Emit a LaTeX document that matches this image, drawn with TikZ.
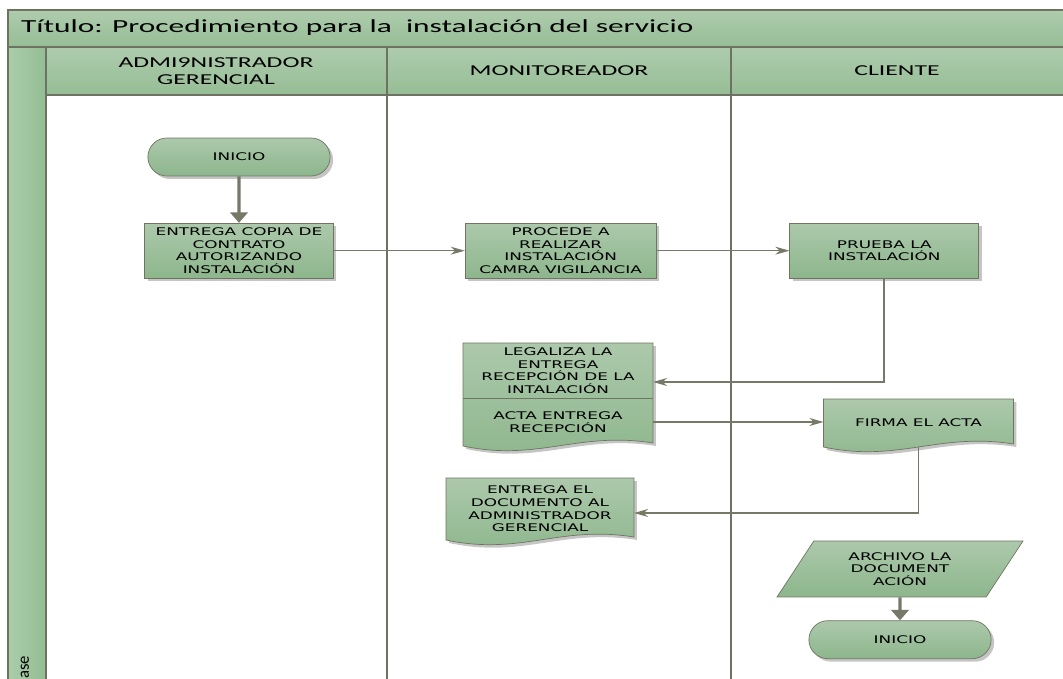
\documentclass[tikz,border=0pt]{standalone}
\usepackage{fontspec}
\setmainfont{Carlito}[FakeStretch=1.7]
\newfontfamily\boxfont{DejaVu Sans}[FakeStretch=1.6]
\newfontfamily\plainfont{Carlito}
\usetikzlibrary{shapes.geometric,shapes.misc,arrows.meta,positioning,calc,shadows,backgrounds}
\definecolor{boxtop}{RGB}{172,201,171}
\definecolor{boxbot}{RGB}{141,182,140}
\definecolor{lanetop}{RGB}{174,204,173}
\definecolor{lanebot}{RGB}{150,189,149}
\definecolor{stripleft}{RGB}{170,205,170}
\definecolor{stripright}{RGB}{148,189,147}
\definecolor{boxline}{RGB}{112,117,98}
\definecolor{lanegray}{RGB}{110,114,96}
\definecolor{linkgray}{RGB}{118,121,104}
% document outline around a top node (#1) and a bottom node (#2)
\newcommand{\docshape}[2]{%
  \path[docfill] (#2.south west) -- (#1.north west) -- (#1.north east)
    -- ([yshift=0.06cm]#2.south east)
    .. controls +(-1.5cm,0.24cm) and +(1.5cm,-0.32cm) .. (#2.south west) -- cycle;}

\begin{document}
\begin{tikzpicture}[
    x=0.02cm, y=-0.02cm,
    shadowed/.style={drop shadow={shadow xshift=0.06cm, shadow yshift=-0.06cm, fill=black!45}},
    boxtext/.style={font=\boxfont\fontsize{6}{7.2}\selectfont, align=center},
    process/.style={rectangle, draw=boxline, top color=boxtop, bottom color=boxbot,
        minimum width=3.78cm, minimum height=1.1cm, inner sep=1pt, boxtext, shadowed},
    terminal/.style={rounded rectangle, draw=boxline, top color=boxtop, bottom color=boxbot,
        minimum width=3.88cm, minimum height=0.76cm, boxtext, shadowed},
    docnode/.style={rectangle, minimum width=3.8cm, inner sep=1pt, outer sep=0pt, boxtext},
    docfill/.style={draw=boxline, top color=boxtop, bottom color=boxbot, shadowed},
    dataio/.style={trapezium, trapezium left angle=45, trapezium right angle=135,
        trapezium stretches body, draw=boxline, top color=boxtop, bottom color=boxbot,
        minimum width=4.92cm, minimum height=1.12cm, inner sep=1pt, boxtext},
    laneline/.style={draw=lanegray, line width=1.2pt},
    lanelabel/.style={font=\fontsize{8.6}{10}\selectfont, align=center},
    flowarrow/.style={draw=linkgray, line width=0.9pt, -{Stealth[length=8pt,width=4.5pt,inset=2.5pt]}},
    thickarrow/.style={draw=linkgray, line width=1.8pt, -{Triangle[length=6pt,width=10pt]}}
]
\useasboundingbox (0,0) rectangle (1063,679);

% swimlanes
\fill[left color=stripleft, right color=stripright] (8,47) rectangle (46,679);
\fill[top color=lanetop, bottom color=lanebot] (8,10) rectangle (1063,47);
\fill[top color=lanetop, bottom color=lanebot] (46,47) rectangle (1063,95);
\draw[laneline] (1063,10) -- (8,10) -- (8,679);
\draw[laneline] (8,47) -- (1063,47);
\draw[laneline] (46,47) -- (46,679);
\draw[laneline] (46,95) -- (1063,95);
\foreach \lx in {387,731}
  \draw[laneline] (\lx,47) -- (\lx,679);

\node[anchor=west, font=\fontsize{10.5}{12}\selectfont] (titulo) at (15,28)
  {Título: Procedimiento para la\ \ instalación del servicio};
\node[lanelabel] (admin) at (216,71) {ADMI9NISTRADOR\\GERENCIAL};
\node[lanelabel] (monitor) at (559,71) {MONITOREADOR};
\node[lanelabel] (cliente) at (897,71) {CLIENTE};
\node[rotate=90, anchor=west, inner sep=0pt, font=\plainfont\fontsize{9.5}{11}\selectfont] (fase) at (25,679) {ase};

% flow
\node[terminal] (inicio) at (239,157) {INICIO};
\node[process, below=0.93cm of inicio] (entrega) {ENTREGA COPIA DE\\CONTRATO\\AUTORIZANDO\\INSTALACIÓN};
\node[process, right=2.62cm of entrega, minimum width=3.82cm] (procede) {PROCEDE A\\REALIZAR\\INSTALACIÓN\\CAMRA VIGILANCIA};
\node[process, right=2.66cm of procede] (prueba) {PRUEBA LA\\INSTALACIÓN};

\node[docnode, minimum height=1.1cm] (legaliza) at (558,370.5) {LEGALIZA LA\\ENTREGA\\RECEPCIÓN DE LA\\INTALACIÓN};
\node[docnode, minimum height=0.96cm, below=0pt of legaliza] (acta) {ACTA ENTREGA\\RECEPCIÓN};
\node[docnode, minimum height=0.96cm] (firma) at (918.5,423) {FIRMA EL ACTA};
\node[docnode, minimum width=3.76cm, minimum height=1.24cm] (entregadoc) at (540,509) {ENTREGA EL\\DOCUMENTO AL\\ADMINISTRADOR\\GERENCIAL};

\node[dataio] (archivo) at (900,569) {ARCHIVO LA\\DOCUMENT\\ACIÓN};
\node[terminal, below=0.46cm of archivo] (fin) {INICIO};

\begin{scope}[on background layer]
  \docshape{legaliza}{acta}
  \docshape{firma}{firma}
  \docshape{entregadoc}{entregadoc}
\end{scope}
\draw[draw=boxline] (legaliza.south west) -- (legaliza.south east);

\draw[thickarrow] (inicio) -- (entrega);
\draw[flowarrow] (entrega) -- (procede);
\draw[flowarrow] (procede) -- (prueba);
\draw[flowarrow] (prueba.south) |- ([yshift=-0.23cm]legaliza.east);
\draw[flowarrow] (acta.east) -- (acta.east -| firma.west);
\draw[flowarrow] (firma.south) |- ([yshift=-0.08cm]entregadoc.east);
\draw[thickarrow] (archivo) -- (fin);
\end{tikzpicture}
\end{document}
